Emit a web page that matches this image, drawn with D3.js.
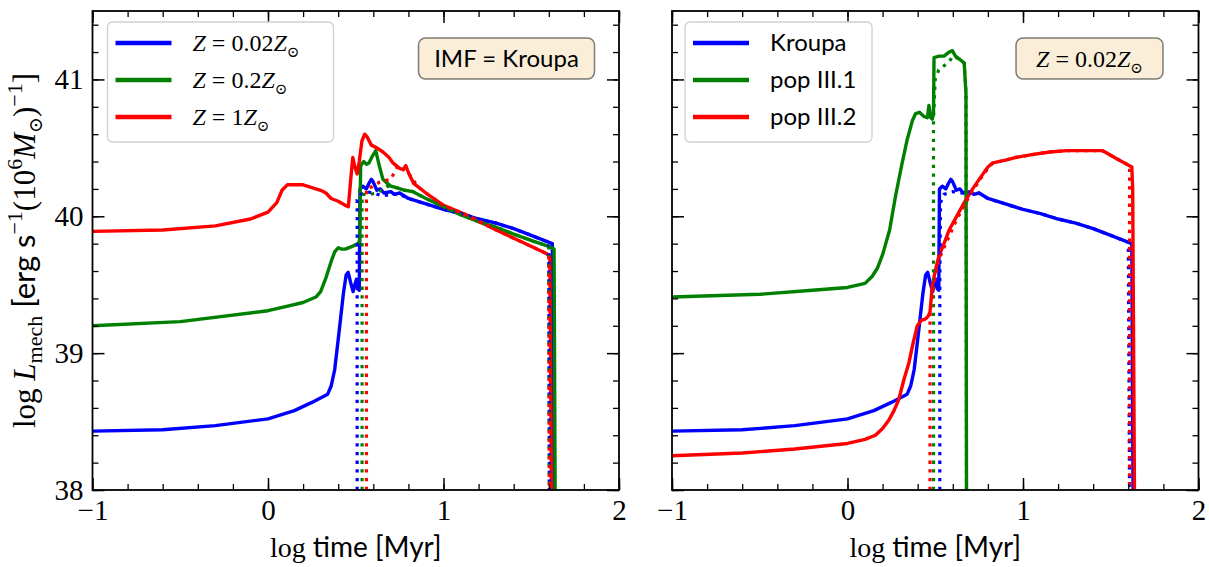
<!DOCTYPE html>
<html>
<head>
<meta charset="utf-8">
<script src="https://cdn.jsdelivr.net/npm/d3@7"></script>
<style>
  body { margin: 0; background: #fff; }
  svg { display: block; }
</style>
</head>
<body>
<script>
// ---- data: [log time (Myr), log L_mech] ----
const kroupaZ002 = [[-1, 38.43], [-0.6, 38.44], [-0.3, 38.47], [0, 38.52], [0.15, 38.58], [0.25, 38.64], [0.34, 38.70],
  [0.36, 38.76], [0.38, 38.88], [0.4, 39.1], [0.43, 39.44], [0.445, 39.57], [0.457, 39.59], [0.47, 39.52], [0.485, 39.45],
  [0.495, 39.5], [0.504, 39.54], [0.512, 39.47], [0.52, 39.46], [0.524, 40.2], [0.54, 40.22], [0.56, 40.2], [0.575, 40.24],
  [0.589, 40.27], [0.6, 40.25], [0.62, 40.19], [0.64, 40.2], [0.66, 40.17], [0.7, 40.18], [0.72, 40.16], [0.75, 40.17],
  [0.8, 40.13], [0.9, 40.09], [1.0, 40.05], [1.1, 40.02], [1.2, 39.98], [1.3, 39.95], [1.4, 39.91], [1.5, 39.86],
  [1.62, 39.80], [1.627, 38]];
const kroupaZ02 = [[-1, 39.20], [-0.5, 39.23], [0, 39.31], [0.1, 39.34], [0.2, 39.37], [0.273, 39.41], [0.3, 39.45],
  [0.33, 39.55], [0.36, 39.67], [0.38, 39.74], [0.40, 39.77], [0.42, 39.76], [0.44, 39.76], [0.48, 39.78], [0.513, 39.80],
  [0.522, 39.82], [0.528, 40.37], [0.545, 40.40], [0.561, 40.38], [0.575, 40.39], [0.595, 40.44], [0.614, 40.48],
  [0.625, 40.42], [0.636, 40.36], [0.655, 40.27], [0.68, 40.24], [0.7, 40.22], [0.731, 40.21], [0.78, 40.19],
  [0.826, 40.18], [0.9, 40.13], [1.0, 40.07], [1.1, 40.01], [1.2, 39.96], [1.3, 39.92], [1.4, 39.87], [1.507, 39.82],
  [1.6, 39.78], [1.63, 39.76], [1.636, 38]];
const kroupaZ1 = [[-1, 39.89], [-0.6, 39.90], [-0.3, 39.93], [-0.1, 39.98], [0, 40.03], [0.05, 40.1], [0.08, 40.19],
  [0.11, 40.23], [0.2, 40.23], [0.25, 40.21], [0.3, 40.19], [0.33, 40.17], [0.36, 40.13], [0.4, 40.11], [0.44, 40.08],
  [0.458, 40.07], [0.47, 40.25], [0.483, 40.43], [0.495, 40.36], [0.508, 40.31], [0.52, 40.4], [0.535, 40.55],
  [0.551, 40.6], [0.565, 40.58], [0.589, 40.52], [0.62, 40.5], [0.655, 40.47], [0.69, 40.43], [0.712, 40.39],
  [0.75, 40.35], [0.77, 40.34], [0.785, 40.37], [0.8, 40.32], [0.83, 40.24], [0.9, 40.17], [1.0, 40.08], [1.13, 40.01],
  [1.3, 39.90], [1.45, 39.81], [1.583, 39.73], [1.606, 39.71], [1.615, 38]];

// dotted companions (left panel)
const dotZ002 = [[0.508, 38], [0.508, 40.12], [0.53, 40.16], [0.56, 40.18], [0.6, 40.17], [0.65, 40.15], [0.7, 40.16],
  [0.75, 40.16], [0.8, 40.13], [0.9, 40.09], [1.0, 40.05], [1.1, 40.02], [1.2, 39.98], [1.3, 39.95], [1.4, 39.91],
  [1.5, 39.86], [1.6, 39.81], [1.603, 38]];
const dotZ02 = [[0.536, 38], [0.536, 40.16], [0.58, 40.16], [0.62, 40.17], [0.68, 40.22], [0.731, 40.21], [0.78, 40.19],
  [0.826, 40.18], [0.9, 40.13], [1.0, 40.07], [1.1, 40.01], [1.2, 39.96], [1.3, 39.92], [1.4, 39.87], [1.507, 39.82],
  [1.6, 39.78], [1.603, 38]];
const dotZ1 = [[0.561, 38], [0.561, 40.2], [0.6, 40.22], [0.636, 40.25], [0.7, 40.27], [0.74, 40.37], [0.79, 40.33],
  [0.82, 40.28], [0.85, 40.22], [0.9, 40.17], [1.0, 40.08], [1.13, 40.01], [1.3, 39.90], [1.45, 39.81], [1.583, 39.73],
  [1.6, 39.72], [1.603, 38]];

// right panel
const popIII1 = [[-1, 39.41], [-0.5, 39.43], [-0.2, 39.46], [0, 39.48], [0.1, 39.51], [0.14, 39.56], [0.17, 39.62],
  [0.2, 39.72], [0.24, 39.9], [0.274, 40.15], [0.31, 40.38], [0.34, 40.56], [0.37, 40.7], [0.388, 40.75], [0.41, 40.76],
  [0.435, 40.73], [0.455, 40.72], [0.464, 40.81], [0.475, 40.72], [0.483, 40.71], [0.49, 40.75], [0.493, 41.16],
  [0.521, 41.17], [0.55, 41.17], [0.579, 41.2], [0.598, 41.21], [0.615, 41.17], [0.636, 41.15], [0.665, 41.12],
  [0.675, 40.9], [0.678, 38]];
const popIII2 = [[-1, 38.25], [-0.6, 38.27], [-0.3, 38.3], [0, 38.34], [0.1, 38.37], [0.159, 38.40], [0.2, 38.45],
  [0.235, 38.51], [0.265, 38.58], [0.292, 38.66], [0.32, 38.8], [0.35, 38.93], [0.375, 39.08], [0.398, 39.2],
  [0.42, 39.24], [0.445, 39.25], [0.46, 39.27], [0.47, 39.3], [0.483, 39.49], [0.5, 39.6], [0.521, 39.71], [0.55, 39.8],
  [0.579, 39.9], [0.618, 39.99], [0.665, 40.1], [0.713, 40.2], [0.761, 40.29], [0.8, 40.36], [0.828, 40.39],
  [0.9, 40.41], [0.961, 40.43], [1.05, 40.45], [1.152, 40.47], [1.25, 40.48], [1.343, 40.48], [1.45, 40.48],
  [1.467, 40.47], [1.534, 40.42], [1.62, 40.36], [1.625, 40.2], [1.635, 38]];
const dotKroupaR = [[0.526, 38], [0.526, 39.5], [0.53, 40.1], [0.55, 40.16], [0.6, 40.18], [0.65, 40.17], [0.7, 40.17],
  [0.75, 40.17], [0.8, 40.13], [0.9, 40.09], [1.0, 40.05], [1.1, 40.02], [1.2, 39.98], [1.3, 39.95], [1.4, 39.91],
  [1.5, 39.86], [1.6, 39.81], [1.607, 38]];
const dotPopIII1 = [[0.49, 38], [0.49, 40.72], [0.5, 41.0], [0.52, 41.07], [0.55, 41.1], [0.58, 41.13], [0.6, 41.17],
  [0.636, 41.15], [0.665, 41.12], [0.675, 40.9], [0.678, 38]];
const dotPopIII2 = [[0.47, 38], [0.47, 39.27], [0.49, 39.5], [0.52, 39.68], [0.56, 39.8], [0.62, 39.97], [0.7, 40.16],
  [0.761, 40.28], [0.8, 40.35], [0.828, 40.39], [0.9, 40.41], [0.961, 40.43], [1.05, 40.45], [1.152, 40.47],
  [1.25, 40.48], [1.343, 40.48], [1.45, 40.48], [1.467, 40.47], [1.534, 40.42], [1.607, 40.37], [1.607, 38]];

const xTicks = [-1, 0, 1, 2];
const yTicks = [38, 39, 40, 41];
const leftLabels = [["Z", " = 0.02", "Z"], ["Z", " = 0.2", "Z"], ["Z", " = 1", "Z"]];
const rightLabels = ["Kroupa", "pop III.1", "pop III.2"];
const colors = ["#0000ff", "#008000", "#ff0000"];

const SERIF = "'Liberation Serif', 'DejaVu Serif', serif";
const SANS = "Lato, 'DejaVu Sans', sans-serif";

// ---- layout ----
const W = 1209, H = 567;
const panel = {top: 11, height: 479, width: 526.5};
const panelLefts = [92.5, 672];

const svg = d3.select("body").append("svg")
  .attr("width", W).attr("height", H)
  .style("font-family", SERIF);

const y = d3.scaleLinear().domain([38, 41.5]).range([panel.height, 0]);
const line = (x) => d3.line().x(d => x(d[0])).y(d => y(d[1]));

function minorRange(a, b, step) {
  const out = [];
  for (let v = a; v <= b + 1e-9; v += step) out.push(+v.toFixed(2));
  return out;
}

function drawPanel(idx, solids, dots, showY) {
  const g = svg.append("g").attr("transform", `translate(${panelLefts[idx]},${panel.top})`);
  const x = d3.scaleLinear().domain([-1, 2]).range([0, panel.width]);

  // curves
  const clip = "clip" + idx;
  g.append("clipPath").attr("id", clip).append("rect")
    .attr("width", panel.width).attr("height", panel.height);
  const plot = g.append("g").attr("clip-path", `url(#${clip})`);
  solids.forEach((s, i) => {
    plot.append("path").datum(s)
      .attr("fill", "none").attr("stroke", colors[i]).attr("stroke-width", 3.4)
      .attr("stroke-linejoin", "round")
      .attr("d", line(x));
  });
  dots.forEach((s, i) => {
    plot.append("path").datum(s)
      .attr("fill", "none").attr("stroke", colors[i]).attr("stroke-width", 3.2)
      .attr("stroke-dasharray", "3.3,5.4")
      .attr("d", line(x));
  });

  // ticks, all four sides pointing in
  const minorX = minorRange(-1, 2, 0.2), minorY = minorRange(38, 41.4, 0.2);
  const axes = [
    [d3.axisBottom(x), `translate(0,${panel.height})`, xTicks, minorX, true],
    [d3.axisTop(x), "translate(0,0)", xTicks, minorX, false],
    [d3.axisLeft(y), "translate(0,0)", yTicks, minorY, showY],
    [d3.axisRight(y), `translate(${panel.width},0)`, yTicks, minorY, false]
  ];
  axes.forEach(([ax, tr, major, minor, labels]) => {
    g.append("g").attr("transform", tr)
      .call(ax.tickValues(minor).tickSize(-6).tickFormat(""))
      .call(a => a.select(".domain").remove())
      .call(a => a.selectAll("line").attr("stroke-width", 1.3));
    const a = g.append("g").attr("transform", tr)
      .call(ax.tickValues(major).tickSize(-12).tickPadding(9)
        .tickFormat(labels ? d3.format("d") : ""));
    a.select(".domain").remove();
    a.selectAll("line").attr("stroke-width", 1.5);
    a.selectAll("text").attr("font-family", SERIF).attr("font-size", 29).attr("fill", "#000");
  });

  g.append("rect").attr("width", panel.width).attr("height", panel.height)
    .attr("fill", "none").attr("stroke", "#000").attr("stroke-width", 1.8);

  // x label
  const xl = g.append("text").attr("x", panel.width / 2).attr("y", 557 - panel.top)
    .attr("text-anchor", "middle").attr("font-size", 28);
  xl.append("tspan").attr("font-family", SERIF).text("log ");
  xl.append("tspan").attr("font-family", SANS).text("time [Myr]");
  return {g, x};
}

// append a run of tspans with vertical shifts (0 = baseline, <0 up)
function richText(t, parts) {
  let cur = 0;
  parts.forEach(p => {
    const shift = p.shift || 0;
    const ts = t.append("tspan").text(p.text)
      .attr("font-family", p.sans ? SANS : SERIF);
    if (p.italic) ts.attr("font-style", "italic");
    if (p.size) ts.attr("font-size", p.size);
    if (shift !== cur) { ts.attr("dy", shift - cur); cur = shift; }
  });
}

const left = drawPanel(0, [kroupaZ002, kroupaZ02, kroupaZ1], [dotZ002, dotZ02, dotZ1], true);
const right = drawPanel(1, [kroupaZ002, popIII1, popIII2], [dotKroupaR, dotPopIII1, dotPopIII2], false);

// y label
const yl = svg.append("text")
  .attr("transform", `translate(35,${panel.top + panel.height / 2}) rotate(-90)`)
  .attr("text-anchor", "middle").attr("font-size", 31);
richText(yl, [
  {text: "log "}, {text: "L", italic: true}, {text: "mech", size: 22, shift: 7},
  {text: " [erg s", sans: true, shift: 0}, {text: "−1", size: 22, shift: -13},
  {text: "(10", shift: 0}, {text: "6", size: 22, shift: -13}, {text: "M", italic: true, shift: 0},
  {text: "⊙", size: 19, shift: 7}, {text: ")", shift: 0}, {text: "−1", size: 22, shift: -13},
  {text: "]", shift: 0}
]);

// legends
function legend(g, x0, labels, rich) {
  const lg = g.append("g");
  lg.append("rect").attr("x", x0).attr("y", 11).attr("width", rich ? 226 : 187).attr("height", 120)
    .attr("rx", 5).attr("fill", "rgba(255,255,255,0.8)").attr("stroke", "#d0d0d0").attr("stroke-width", 1.3);
  labels.forEach((lab, i) => {
    const yy = 32 + i * 37;
    lg.append("line").attr("x1", x0 + 8).attr("x2", x0 + 64).attr("y1", yy).attr("y2", yy)
      .attr("stroke", colors[i]).attr("stroke-width", 4.5);
    const t = lg.append("text").attr("x", x0 + 85).attr("y", yy + 8).attr("font-size", 24);
    if (rich) {
      richText(t, [{text: lab[0], italic: true}, {text: lab[1]}, {text: lab[2], italic: true},
        {text: "⊙", size: 15, shift: 6}]);
    } else {
      t.attr("font-family", SANS).text(lab);
    }
  });
}
legend(left.g, 15, leftLabels, true);
legend(right.g, 13, rightLabels, false);

// annotation boxes
function note(g, x0, w, build) {
  g.append("rect").attr("x", x0).attr("y", 27).attr("width", w).attr("height", 41).attr("rx", 7)
    .attr("fill", "rgba(245,222,179,0.5)").attr("stroke", "rgba(0,0,0,0.5)").attr("stroke-width", 1.5);
  const t = g.append("text").attr("x", x0 + w / 2).attr("y", 56).attr("text-anchor", "middle").attr("font-size", 24);
  build(t);
}
note(left.g, 326, 176, t => t.attr("font-family", SANS).text("IMF = Kroupa"));
note(right.g, 344, 147, t => richText(t, [{text: "Z", italic: true}, {text: " = 0.02"}, {text: "Z", italic: true},
  {text: "⊙", size: 15, shift: 6}]));
</script>
</body>
</html>
